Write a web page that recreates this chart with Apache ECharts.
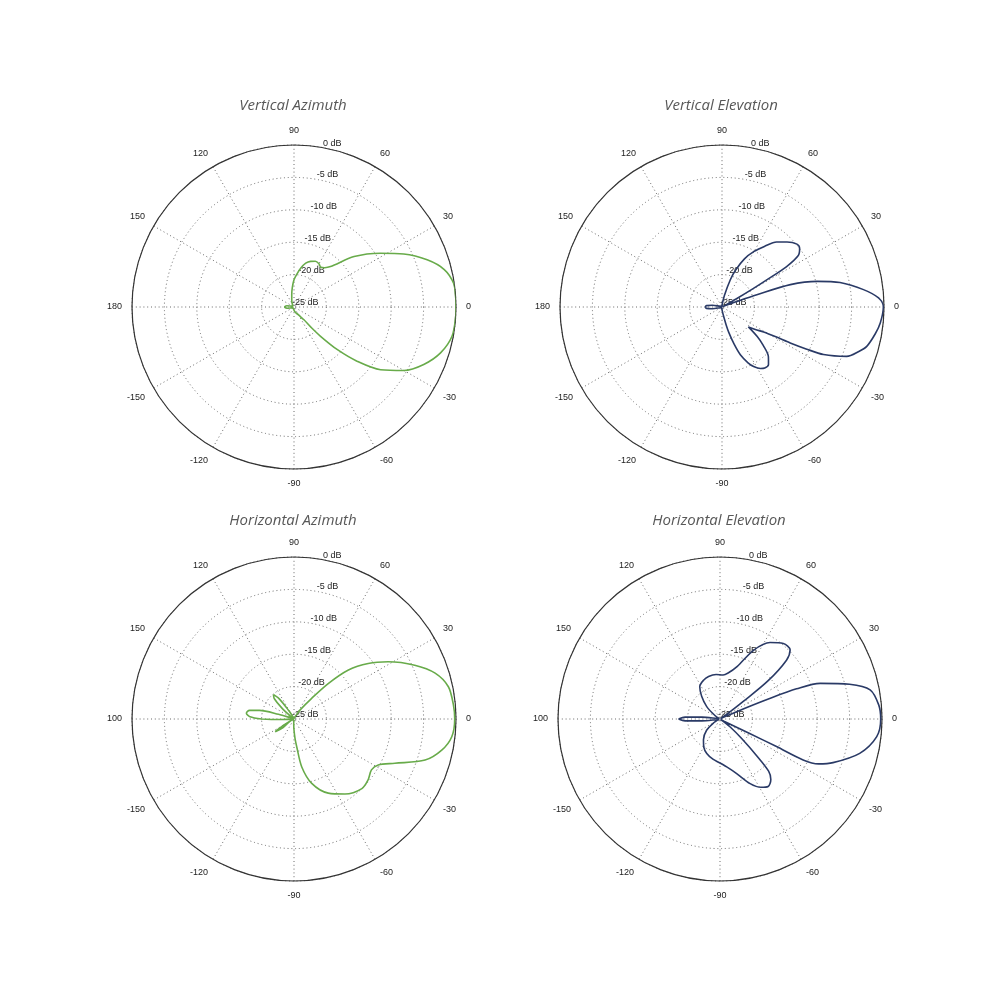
<!DOCTYPE html>
<html><head><meta charset="utf-8">
<script src="https://cdn.jsdelivr.net/npm/echarts@6/dist/echarts.min.js"></script>
<style>html,body{margin:0;padding:0;background:#fff}#c{width:1000px;height:992px}</style>
</head><body><div id="c"></div>
<script>
// ---- text ----
const chartTitles = ['Vertical Azimuth', 'Vertical Elevation', 'Horizontal Azimuth', 'Horizontal Elevation'];
const angleTicks = [0, 30, 60, 90, 120, 150, 180, 210, 240, 270, 300, 330];
const angleLabelsTop = ['0', '30', '60', '90', '120', '150', '180', '-150', '-120', '-90', '-60', '-30'];
const angleLabelsBottom = ['0', '30', '60', '90', '120', '150', '100', '-150', '-120', '-90', '-60', '-30'];
const radiusTicks = [-25, -20, -15, -10, -5, 0];

// ---- Vertical Azimuth (green) ----
const vaAngles = [-180,-170,-160,-140,-120,-100,-90,-80,-70,-60,-55,-52,-50,-47.8,-44.5,-40.6,-35.9,-30,-23.9,-17.4,-10.5,-3.3,0,4,8.5,14,19.5,25.8,31.9,40,47.9,52,56,60,65,70,75,80,85,90,95,100,110,120,140,160,170,180];
const vaGain   = [-23.5,-23.9,-24.6,-24.8,-24.8,-24.7,-24.5,-24.3,-24.0,-23.6,-23.0,-22.5,-21.0,-18.9,-15.6,-12.1,-8.5,-5.4,-3.1,-1.3,-0.2,0,0,0,-0.1,-1.1,-3.2,-6.2,-9.3,-12.9,-16.6,-17.3,-17.6,-17.3,-17.2,-17.5,-18.0,-18.9,-19.9,-20.8,-22.0,-23.0,-24.0,-24.5,-24.8,-24.6,-23.9,-23.5];

// ---- Vertical Elevation (navy) ----
const veAngles = [-180,-175,-170,-160,-140,-120,-100,-90,-84,-80,-77,-75,-72,-69,-65,-62,-58,-55,-51,-47,-43,-40,-37,-34,-31,-29,-27.8,-26.5,-25.1,-21.6,-18,-15.2,-10,-5.8,0,3.3,7,11.7,15.1,18.1,19.4,20.5,22,25,28,29.5,30.5,31.2,32,34,37,40,45,50,55,60,65,70,73,78,85,90,110,140,160,170,175,180];
const veGain   = [-22.4,-22.6,-23.5,-24.7,-24.9,-24.9,-24.8,-24.6,-24.2,-23.5,-22.2,-20.9,-19.0,-17.1,-15.5,-14.6,-13.8,-13.5,-13.6,-14.5,-16.3,-17.9,-19.9,-18.8,-17.5,-15.5,-13.1,-10.5,-7.7,-4.3,-2.8,-1.85,-1.0,-0.45,-0.1,-0.8,-3.0,-6.4,-9.8,-13.9,-19.3,-22.7,-24.3,-24.9,-24.3,-22.5,-19.5,-17.0,-13.3,-10.8,-10.0,-9.9,-10.8,-11.9,-13.6,-15.1,-16.8,-19.0,-20.6,-23.1,-24.5,-24.8,-24.9,-24.9,-24.7,-23.5,-22.6,-22.4];

// ---- Horizontal Azimuth (green) ----
const haAngles = [-180,-178,-175,-165,-154,-150,-146,-142,-138,-120,-100,-93,-90,-87,-84.4,-80.8,-74.6,-65.2,-55.8,-45.7,-39.4,-33.3,-28.6,-23.7,-17.4,-11.9,-6.4,0,5,11.8,18,24,31.3,36.8,42,46,49.5,56,65,80,110,118,122,126,130,134,138,142,152,160,163,166,169,173,177,180];
const haGain   = [-20.0,-22.5,-24.5,-24.9,-24.9,-23.2,-21.5,-22.8,-24.9,-24.9,-24.8,-24.2,-23.3,-22.0,-20.7,-17.5,-14.7,-12.4,-11.0,-10.0,-10.2,-10.7,-10.2,-8.0,-3.8,-1.7,-0.5,-0.2,-0.3,-0.66,-2.1,-4.6,-8.0,-10.7,-13.7,-17.4,-20.8,-23.3,-24.6,-24.9,-24.9,-24.9,-23.5,-21.2,-20.1,-20.6,-22.5,-24.5,-24.9,-24.5,-22.5,-19.5,-18.0,-17.6,-18.2,-20.0];

// ---- Horizontal Elevation (navy) ----
const heAngles = [-180,-177,-174,-170,-165,-158,-150,-140,-128.5,-120,-111,-100,-90,-80,-73,-65,-59,-54.5,-50,-47,-45,-42,-38,-33,-29,-26,-26,-26.2,-24.5,-21.1,-13.8,-6.4,0,5,11,15,19.6,21.5,22.5,23.5,26,30,35,37,38.5,41.5,44.6,50,56.8,64,72,80,86,95,105,113,122,129,137,145,155,165,170,174,177,180];
const heGain   = [-18.6,-19.6,-22.2,-24.6,-24.8,-24.9,-24.0,-22.3,-20.9,-20.0,-19.3,-18.7,-18.2,-17.3,-16.2,-14.0,-12.7,-12.2,-12.8,-14.0,-17.0,-20.5,-23.0,-24.9,-24.3,-20.0,-15.3,-10.7,-8.3,-6.3,-2.8,-0.66,-0.2,-0.4,-1.4,-4.3,-8.6,-12.3,-16.7,-21.0,-24.5,-24.9,-23.5,-20.5,-15.5,-11.3,-9.8,-9.8,-10.9,-13.2,-16.5,-17.8,-18.2,-18.1,-18.2,-18.5,-19.1,-20.5,-22.2,-24.0,-24.9,-24.8,-24.6,-22.2,-19.6,-18.6];

const GREEN = '#68ab4a';
const NAVY = '#2a3a66';
const charts = [
  {angles: vaAngles, gain: vaGain, color: GREEN, labels: angleLabelsTop, center: [294, 307], titleY: 105},
  {angles: veAngles, gain: veGain, color: NAVY, labels: angleLabelsTop, center: [722, 307], titleY: 105},
  {angles: haAngles, gain: haGain, color: GREEN, labels: angleLabelsBottom, center: [294, 719], titleY: 520},
  {angles: heAngles, gain: heGain, color: NAVY, labels: angleLabelsBottom, center: [720, 719], titleY: 520}
];
const R = 162;
const FONT = 'Liberation Sans';
const gridLine = {show: true, lineStyle: {color: '#6a6a6a', width: 1, type: [1, 2.8]}};

const option = {animation: false, backgroundColor: '#fff', title: [], polar: [], angleAxis: [], radiusAxis: [], series: []};
charts.forEach((c, i) => {
  option.title.push({
    text: chartTitles[i], left: c.center[0] - 1, top: c.titleY - 7, textAlign: 'center', padding: 0,
    textStyle: {fontFamily: 'Open Sans', fontStyle: 'italic', fontWeight: 'normal', fontSize: 15, color: '#585858'}
  });
  const mainIdx = i * 2, lblIdx = i * 2 + 1;
  option.polar.push({center: c.center, radius: R});
  option.polar.push({center: c.center, radius: R});
  option.angleAxis.push({
    polarIndex: mainIdx, type: 'value', min: 0, max: 360, interval: 30, startAngle: 0, clockwise: false,
    axisLine: {show: true, lineStyle: {color: '#333', width: 1.2}},
    axisTick: {show: false},
    axisLabel: {margin: 10, fontFamily: FONT, fontSize: 9, color: '#222',
      formatter: v => { const k = angleTicks.indexOf(v); return k >= 0 ? c.labels[k] : ''; }},
    splitLine: gridLine, splitArea: {show: false}
  });
  option.radiusAxis.push({
    polarIndex: mainIdx, type: 'value', min: radiusTicks[0], max: radiusTicks[radiusTicks.length - 1], interval: 5,
    axisLine: {show: false}, axisTick: {show: false}, axisLabel: {show: false},
    splitLine: gridLine, splitArea: {show: false}
  });
  option.angleAxis.push({
    polarIndex: lblIdx, type: 'value', min: 0, max: 360, startAngle: 79, clockwise: false,
    axisLine: {show: false}, axisTick: {show: false}, axisLabel: {show: false}, splitLine: {show: false}
  });
  option.radiusAxis.push({
    polarIndex: lblIdx, type: 'value', min: radiusTicks[0], max: radiusTicks[radiusTicks.length - 1], interval: 5,
    axisLine: {show: false}, axisTick: {show: false}, splitLine: {show: false},
    axisLabel: {show: true, margin: 2, align: 'left', verticalAlign: 'bottom', fontFamily: FONT, fontSize: 9, color: '#222',
      formatter: v => v + ' dB'}
  });
  option.series.push({
    type: 'line', coordinateSystem: 'polar', polarIndex: mainIdx, showSymbol: false, smooth: 0.3,
    lineStyle: {color: c.color, width: 1.6}, itemStyle: {color: c.color},
    data: c.angles.map((a, k) => [c.gain[k], (a + 360) % 360])
  });
});
const chart = echarts.init(document.getElementById('c'));
chart.setOption(option);
</script></body></html>
